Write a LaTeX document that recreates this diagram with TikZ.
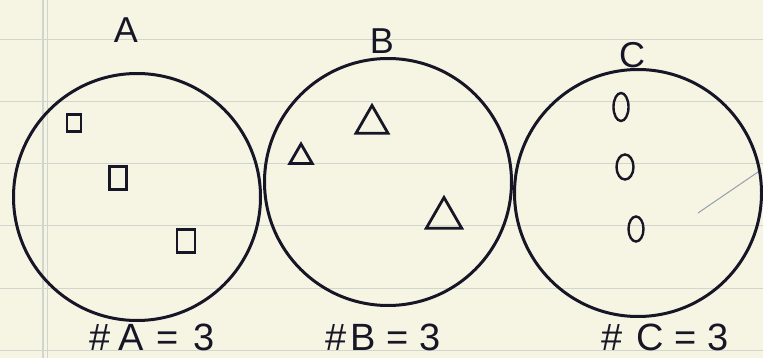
\documentclass[tikz,border=0pt]{standalone}
\usepackage{fontspec}
\setmainfont{Liberation Sans}
\usetikzlibrary{shapes.geometric}
\definecolor{paper}{RGB}{246,245,228}
\definecolor{rulecol}{RGB}{208,214,204}
\definecolor{ink}{RGB}{22,22,38}
\definecolor{stray}{RGB}{150,158,175}
\tikzset{
  setcircle/.style={circle, draw=ink, line width=3pt, minimum size=247pt, inner sep=0pt},
  sqshape/.style={rectangle, draw=ink, line width=2.6pt, inner sep=0pt},
  trishape/.style={regular polygon, regular polygon sides=3, draw=ink, line width=2.8pt, inner sep=0pt},
  ovshape/.style={ellipse, draw=ink, line width=2.4pt, inner sep=0pt},
  setname/.style={text=ink, anchor=base, inner sep=0pt, font=\fontsize{36}{36}\selectfont},
  countlabel/.style={text=ink, anchor=base, inner sep=0pt, font=\fontsize{38}{38}\selectfont},
  paperrule/.style={draw=rulecol, line width=1pt},
}
\begin{document}
\begin{tikzpicture}[x=1pt,y=-1pt]
  \fill[paper] (0,0) rectangle (763,358);
  \useasboundingbox (0,0) rectangle (763,358);
  % ruled paper
  \foreach \yy in {40,102,164,226,288,350} {\draw[paperrule] (0,\yy) -- (763,\yy);}
  \draw[paperrule, line width=1.2pt] (43,0) -- (43,358);
  \draw[paperrule, line width=0.8pt] (47,0) -- (47,358);
  % sets
  \node[setcircle] (cA) at (137,197) {};
  \node[setcircle] (cB) at (388,182) {};
  \node[setcircle] (cC) at (638,193) {};
  % set names
  \node[setname] (nA) at (126,43) {A};
  \node[setname] (nB) at (382,54) {B};
  \node[setname] (nC) at (632,68) {C};
  % elements of A
  \node[sqshape, minimum width=14pt, minimum height=17pt] (a1) at (74,123) {};
  \node[sqshape, minimum width=17pt, minimum height=23pt] (a2) at (118,178) {};
  \node[sqshape, minimum width=18pt, minimum height=23pt] (a3) at (186,241) {};
  % elements of B
  \node[trishape, minimum size=37pt] (b1) at (372,124) {};
  \node[trishape, minimum size=26pt] (b2) at (301,157) {};
  \node[trishape, minimum size=41pt] (b3) at (444,218) {};
  % elements of C
  \node[ovshape, minimum width=15pt, minimum height=28pt] (c1) at (621,107) {};
  \node[ovshape, minimum width=17pt, minimum height=25pt] (c2) at (625,167) {};
  \node[ovshape, minimum width=15pt, minimum height=25pt] (c3) at (636,229) {};
  % stray stroke
  \coordinate (s1) at (698,213);
  \coordinate (s2) at (758,172);
  \draw[stray, line width=1pt] (s1) -- (s2);
  % counts
  \node[countlabel] (kA) at (152,350) {\#\hspace{8pt}A\hspace{2pt} = \hspace{4pt}3};
  \node[countlabel] (kB) at (383,350) {\#\hspace{4pt}B = 3};
  \node[countlabel] (kC) at (665,350) {\#\hspace{14pt}C = 3};
\end{tikzpicture}
\end{document}
